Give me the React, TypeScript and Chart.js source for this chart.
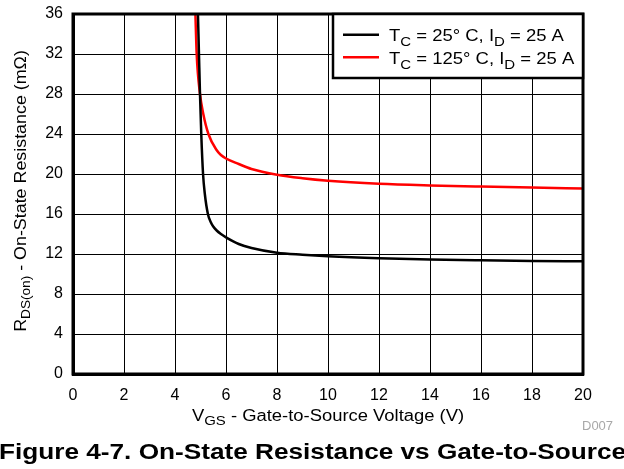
import React, { useEffect, useRef } from 'react';
import { Chart, registerables } from 'chart.js';

Chart.register(...registerables);

// ---- data ----
const vgs25 = [4.9, 4.94, 4.98, 5.03, 5.1, 5.17, 5.29, 5.4, 5.5, 5.635, 5.8, 6.0, 6.5, 7.0, 8.0, 9.0, 10, 12, 14, 16, 18, 20];
const rds25 = [36, 32, 28, 24, 20, 18, 16, 15.2, 14.75, 14.35, 14.0, 13.67, 13.0, 12.6, 12.13, 11.93, 11.78, 11.58, 11.45, 11.37, 11.31, 11.27];

const vgs125 = [4.8, 4.85, 4.98, 5.11, 5.31, 5.63, 5.8, 6.0, 6.5, 7.0, 8.0, 9.0, 10, 12, 14, 16, 18, 20];
const rds125 = [36, 32, 28, 26, 24, 22.4, 21.9, 21.55, 21.0, 20.5, 19.93, 19.58, 19.33, 19.03, 18.86, 18.74, 18.64, 18.55];

const xMin = 0;
const xMax = 20;
const xStep = 2;
const yMin = 0;
const yMax = 36;
const yStep = 4;

const legendLabels = [
  [{ t: 'T' }, { t: 'C', sub: true }, { t: ' = 25° C, I' }, { t: 'D', sub: true }, { t: ' = 25 A' }],
  [{ t: 'T' }, { t: 'C', sub: true }, { t: ' = 125° C, I' }, { t: 'D', sub: true }, { t: ' = 25 A' }],
];
const seriesColors = ['#000000', '#ff0000'];
const xTitle = [{ t: 'V' }, { t: 'GS', sub: true }, { t: ' - Gate-to-Source Voltage (V)' }];
const yTitle = [{ t: 'R' }, { t: 'DS(on)', sub: true }, { t: ' - On-State Resistance (mΩ)' }];
const figureTitle = 'Figure 4-7. On-State Resistance vs Gate-to-Source';
const figureId = 'D007';

const FONT = "'Liberation Sans', Arial, Helvetica, sans-serif";

type Seg = { t: string; sub?: boolean };

function drawRich(
  ctx: CanvasRenderingContext2D,
  segs: Seg[],
  x: number,
  y: number,
  o: { size: number; subSize: number; subDrop: number; align: 'left' | 'center'; scaleX: number; color: string; bold?: boolean }
) {
  ctx.save();
  ctx.translate(x, y);
  ctx.scale(o.scaleX, 1);
  ctx.fillStyle = o.color;
  ctx.textBaseline = 'alphabetic';
  ctx.textAlign = 'left';
  const w: number[] = [];
  let total = 0;
  for (const s of segs) {
    ctx.font = `${o.bold ? 'bold ' : ''}${s.sub ? o.subSize : o.size}px ${FONT}`;
    const m = ctx.measureText(s.t).width;
    w.push(m);
    total += m;
  }
  let cx = o.align === 'center' ? -total / 2 : 0;
  segs.forEach((s, i) => {
    ctx.font = `${o.bold ? 'bold ' : ''}${s.sub ? o.subSize : o.size}px ${FONT}`;
    ctx.fillText(s.t, cx, s.sub ? o.subDrop : 0);
    cx += w[i];
  });
  ctx.restore();
}

const decorPlugin = {
  id: 'decor',
  afterDatasetsDraw(chart: any) {
    const ctx: CanvasRenderingContext2D = chart.ctx;
    const a = chart.chartArea;
    // frame
    ctx.save();
    ctx.strokeStyle = '#000';
    ctx.lineWidth = 3;
    ctx.strokeRect(a.left, a.top, a.right - a.left, a.bottom - a.top);
    ctx.restore();

    // legend box
    const bx = a.right - 250;
    const by = a.top;
    const bw = 250;
    const bh = 64;
    ctx.save();
    ctx.fillStyle = '#fff';
    ctx.fillRect(bx, by, bw, bh);
    ctx.strokeStyle = '#000';
    ctx.lineWidth = 2.5;
    ctx.strokeRect(bx, by, bw, bh);
    legendLabels.forEach((segs, i) => {
      const base = by + 27 + i * 22.5;
      ctx.strokeStyle = seriesColors[i];
      ctx.lineWidth = 2.5;
      ctx.beginPath();
      ctx.moveTo(bx + 10, base - 6.3);
      ctx.lineTo(bx + 46, base - 6.3);
      ctx.stroke();
      drawRich(ctx, segs, bx + 56, base, { size: 16, subSize: 13, subDrop: 5, align: 'left', scaleX: 1.155, color: '#000' });
    });
    ctx.restore();

    // x axis title
    drawRich(ctx, xTitle, (a.left + a.right) / 2, 421, { size: 16, subSize: 13, subDrop: 4, align: 'center', scaleX: 1.15, color: '#000' });

    // y axis title (rotated)
    ctx.save();
    ctx.translate(26, 191);
    ctx.rotate(-Math.PI / 2);
    drawRich(ctx, yTitle, 0, 0, { size: 17, subSize: 13, subDrop: 4, align: 'center', scaleX: 1.05, color: '#000' });
    ctx.restore();

    // id
    drawRich(ctx, [{ t: figureId }], 582, 430, { size: 13, subSize: 13, subDrop: 0, align: 'left', scaleX: 1, color: '#a8a8a8' });

    // figure title
    drawRich(ctx, [{ t: figureTitle }], -1, 459, { size: 22, subSize: 22, subDrop: 0, align: 'left', scaleX: 1.19, color: '#000', bold: true });
  },
};

export default function App() {
  const ref = useRef<HTMLCanvasElement>(null);
  useEffect(() => {
    if (!ref.current) return;
    const chart = new Chart(ref.current, {
      type: 'line',
      data: {
        datasets: [
          {
            label: 'TC = 25° C, ID = 25 A',
            data: vgs25.map((x, i) => ({ x, y: rds25[i] })),
            borderColor: seriesColors[0],
            borderWidth: 2.5,
            pointRadius: 0,
            cubicInterpolationMode: 'monotone',
            fill: false,
          },
          {
            label: 'TC = 125° C, ID = 25 A',
            data: vgs125.map((x, i) => ({ x, y: rds125[i] })),
            borderColor: seriesColors[1],
            borderWidth: 2.5,
            pointRadius: 0,
            cubicInterpolationMode: 'monotone',
            fill: false,
          },
        ],
      },
      options: {
        animation: false,
        responsive: true,
        maintainAspectRatio: false,
        layout: { padding: { left: 0, right: 41, top: 14, bottom: 0 } },
        plugins: {
          legend: { display: false },
          tooltip: { enabled: false },
          title: { display: false },
        },
        scales: {
          x: {
            type: 'linear',
            min: xMin,
            max: xMax,
            ticks: {
              stepSize: xStep,
              color: '#000',
              font: { family: FONT, size: 16 },
              padding: 12,
              maxRotation: 0,
            },
            grid: { color: '#000', lineWidth: 1, drawTicks: false },
            border: { display: true, color: '#000', width: 3 },
            afterFit: (s: any) => {
              s.height = 95;
              s.paddingLeft = 0;
              s.paddingRight = 0;
            },
          },
          y: {
            type: 'linear',
            min: yMin,
            max: yMax,
            ticks: {
              stepSize: yStep,
              color: '#000',
              font: { family: FONT, size: 16 },
              padding: 10,
            },
            grid: { color: '#000', lineWidth: 1, drawTicks: false },
            border: { display: true, color: '#000', width: 3 },
            afterFit: (s: any) => {
              s.width = 73;
              s.paddingTop = 0;
              s.paddingBottom = 0;
            },
          },
        },
      } as any,
      plugins: [decorPlugin],
    });
    return () => chart.destroy();
  }, []);
  return (
    <div style={{ position: 'absolute', left: 0, top: 0, width: 624, height: 469, background: '#fff', overflow: 'hidden' }}>
      <canvas ref={ref} />
    </div>
  );
}
